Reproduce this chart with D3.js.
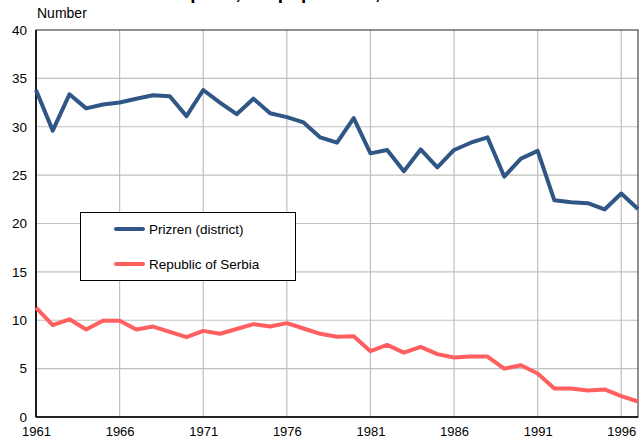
<!DOCTYPE html>
<html><head><meta charset="utf-8">
<script src="https://cdn.jsdelivr.net/npm/d3@7"></script>
<style>body{margin:0;background:#fff;} svg{display:block;font-family:"Liberation Sans",Arial,sans-serif;}</style>
</head><body>
<svg id="c" width="643" height="438"></svg>
<script>
const years = d3.range(1961, 1998);
const prizren = [33.8,29.6,33.35,31.9,32.3,32.5,32.9,33.25,33.15,31.1,33.8,32.5,31.3,32.9,31.4,31.0,30.45,28.9,28.35,30.9,27.25,27.6,25.4,27.65,25.8,27.6,28.35,28.9,24.85,26.7,27.5,22.4,22.2,22.1,21.45,23.1,21.5];
const serbia = [11.3,9.5,10.1,9.05,9.95,9.95,9.05,9.35,8.8,8.25,8.9,8.6,9.1,9.6,9.35,9.7,9.15,8.6,8.3,8.35,6.8,7.45,6.65,7.25,6.5,6.15,6.25,6.25,5.0,5.35,4.5,2.95,2.95,2.75,2.85,2.15,1.6];
const xTicks = [1961,1966,1971,1976,1981,1986,1991,1996];
const yTicks = [0,5,10,15,20,25,30,35,40];
const seriesNames = ["Prizren (district)", "Republic of Serbia"];
const colors = ["#2f5684", "#ff5f5f"];

const svg = d3.select("#c");
const L = 36, R = 638, T = 30, B = 417;
const x = d3.scaleLinear().domain([1961, 1997]).range([L, R]);
const y = d3.scaleLinear().domain([0, 40]).range([B, T]);

// title (cut off at top, as in the reference)
svg.append("text").attr("x", 37).attr("y", -1).attr("font-size", 19).attr("font-weight", "bold")
  .text("Natural increase per 1,000 population, 1961-1997");
svg.append("text").attr("x", 37).attr("y", 18).attr("font-size", 14).text("Number");

// grid
svg.append("g").selectAll("line").data(yTicks.filter(d => d > 0 && d < 40)).join("line")
  .attr("x1", L).attr("x2", R).attr("y1", d => y(d)).attr("y2", d => y(d))
  .attr("stroke", "#c0c0c0").attr("stroke-width", 1.2);
svg.append("g").selectAll("line").data(xTicks.filter(d => d > 1961)).join("line")
  .attr("x1", d => x(d)).attr("x2", d => x(d)).attr("y1", T).attr("y2", B)
  .attr("stroke", "#c0c0c0").attr("stroke-width", 1.2);

// frame
svg.append("rect").attr("x", L).attr("y", T).attr("width", R - L).attr("height", B - T)
  .attr("fill", "none").attr("stroke", "#222").attr("stroke-width", 1);
svg.append("line").attr("x1", L).attr("x2", L).attr("y1", T).attr("y2", B).attr("stroke", "#000").attr("stroke-width", 1.6);
svg.append("line").attr("x1", L).attr("x2", R).attr("y1", B).attr("y2", B).attr("stroke", "#000").attr("stroke-width", 1.6);

// axes labels
const ya = svg.append("g").attr("transform", `translate(${L},0)`)
  .call(d3.axisLeft(y).tickValues(yTicks).tickSize(0).tickPadding(9));
ya.select(".domain").remove();
ya.selectAll("text").attr("font-size", 13.5).attr("font-family", "Liberation Sans, Arial, sans-serif").attr("fill", "#000");
const xa = svg.append("g").attr("transform", `translate(0,${B})`)
  .call(d3.axisBottom(x).tickValues(xTicks).tickFormat(d3.format("d")).tickSize(0).tickPadding(10));
xa.select(".domain").remove();
xa.selectAll("text").attr("font-size", 13).attr("font-family", "Liberation Sans, Arial, sans-serif").attr("fill", "#000");

// lines
const line = d3.line().x((d, i) => x(years[i])).y(d => y(d));
[prizren, serbia].forEach((s, k) => {
  svg.append("path").datum(s).attr("d", line).attr("fill", "none")
    .attr("stroke", colors[k]).attr("stroke-width", 4).attr("stroke-linejoin", "round");
});

// legend
const lg = svg.append("g");
lg.append("rect").attr("x", 80.5).attr("y", 212.5).attr("width", 215).attr("height", 68)
  .attr("fill", "#fff").attr("stroke", "#000").attr("stroke-width", 1);
seriesNames.forEach((n, k) => {
  const yy = 229 + k * 35;
  lg.append("line").attr("x1", 116).attr("x2", 143).attr("y1", yy).attr("y2", yy)
    .attr("stroke", colors[k]).attr("stroke-width", 4).attr("stroke-linecap", "round");
  lg.append("text").attr("x", 149).attr("y", yy + 5).attr("font-size", 13.5).text(n);
});
</script>
</body></html>
